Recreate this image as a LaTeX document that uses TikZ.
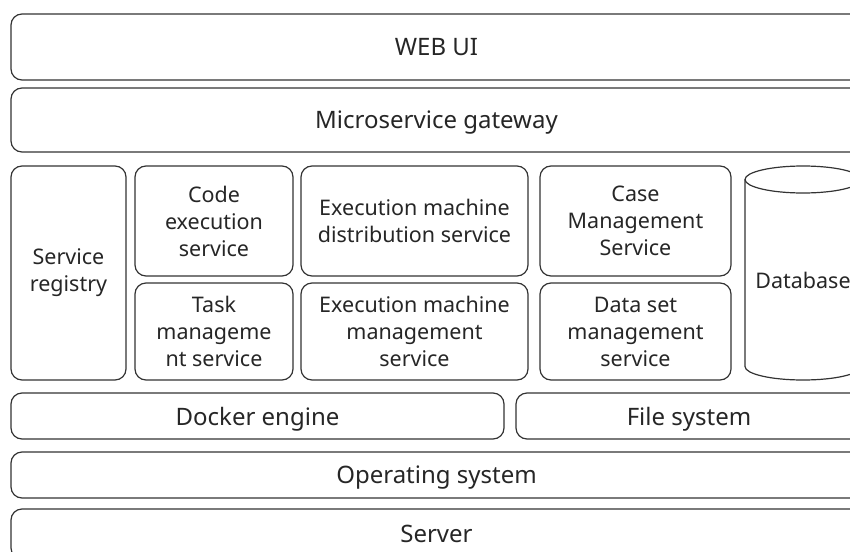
\documentclass[tikz,border=0pt]{standalone}
\usepackage{fontspec}
\setmainfont{Noto Sans}
\begin{document}
\begin{tikzpicture}[x=1pt,y=-1pt,
  box/.style={draw=black!80, line width=1.2pt, rounded corners=11pt, align=center,
    font=\fontsize{21.5}{27}\selectfont, inner sep=0pt, text=black!85},
  big/.style={box, font=\fontsize{24}{28}\selectfont, text depth=0pt},
  lbl/.style={align=center, font=\fontsize{21.5}{27}\selectfont, inner sep=0pt, text=black!85},
]
\useasboundingbox (0,0) rectangle (850,551);
\begin{scope}
\clip (0,0) rectangle (850,551);
\node[big, minimum width=851pt, minimum height=66pt] (web) at (436.5,47) {WEB UI};
\node[big, minimum width=851pt, minimum height=64pt] (gw) at (436.5,120) {Microservice gateway};
\node[box, minimum width=115pt, minimum height=214pt] (reg) at (68.5,273) {Service\\registry};
\node[box, minimum width=158pt, minimum height=110pt] (code) at (214,221) {Code\\execution\\service};
\node[box, minimum width=158pt, minimum height=97pt] (task) at (214,331.5) {Task\\manageme\\nt service};
\node[box, minimum width=227pt, minimum height=110pt] (dist) at (414.5,221) {Execution machine\\distribution service};
\node[box, minimum width=227pt, minimum height=97pt] (emm) at (414.5,331.5) {Execution machine\\management\\service};
\node[box, minimum width=191pt, minimum height=110pt] (case) at (635.5,221) {Case\\Management\\Service};
\node[box, minimum width=191pt, minimum height=97pt] (data) at (635.5,331.5) {Data set\\management\\service};
\draw[draw=black!80, line width=1.2pt] (803,179.5) ellipse[x radius=58, y radius=13.5];
\draw[draw=black!80, line width=1.2pt] (745,179.5) -- (745,366.5)
  arc[start angle=180, end angle=0, x radius=58, y radius=13.5] -- (861,179.5);
\node[lbl] (db) at (803,280) {Database};
\node[big, minimum width=493pt, minimum height=46pt] (docker) at (257.5,416) {Docker engine};
\node[big, minimum width=346pt, minimum height=46pt] (fs) at (689,416) {File system};
\node[big, minimum width=851pt, minimum height=46pt] (os) at (436.5,475) {Operating system};
\node[big, minimum width=851pt, minimum height=50pt] (srv) at (436.5,534) {Server};
\end{scope}
\end{tikzpicture}
\end{document}
